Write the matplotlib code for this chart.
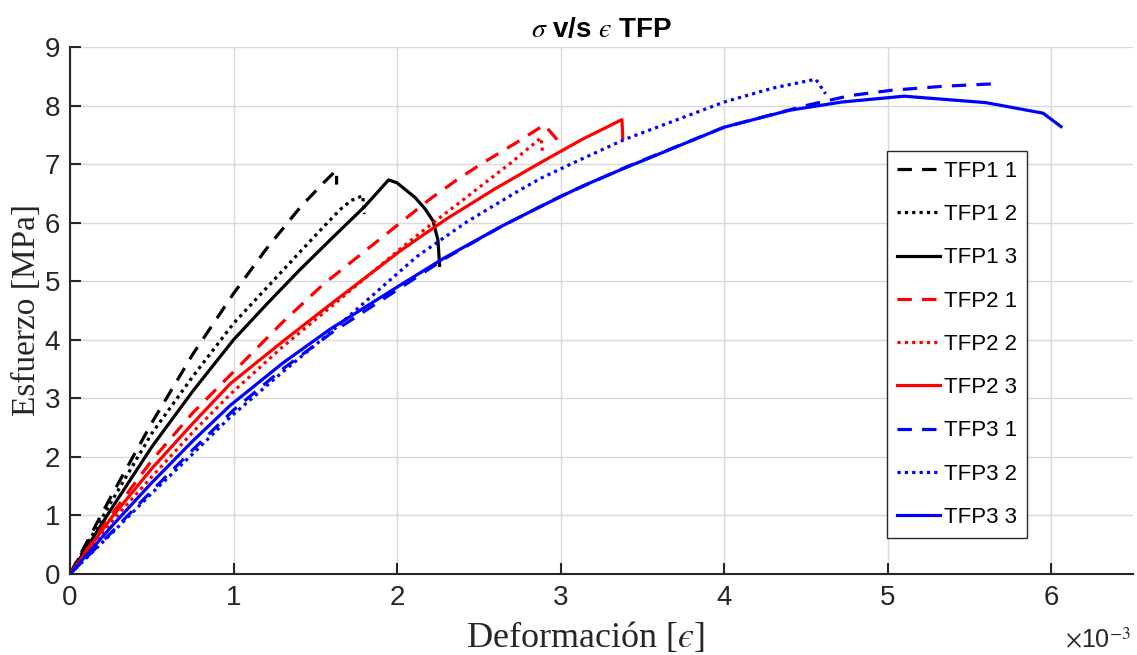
import matplotlib
matplotlib.use("Agg")
import matplotlib.pyplot as plt
import numpy as np

plt.rcParams['mathtext.fontset'] = 'stix'

# strain values in units of 1e-3, stress in MPa
tfp1_1_x = [0, 0.25, 0.5, 0.75, 1.0, 1.2, 1.41, 1.55, 1.63, 1.63]
tfp1_1_y = [0, 1.32, 2.58, 3.75, 4.79, 5.55, 6.27, 6.68, 6.9, 6.65]

tfp1_2_x = [0, 0.25, 0.5, 0.75, 1.0, 1.3, 1.5, 1.65, 1.72, 1.79, 1.80]
tfp1_2_y = [0, 1.22, 2.4, 3.37, 4.28, 5.18, 5.78, 6.22, 6.38, 6.46, 6.15]

tfp1_3_x = [0, 0.25, 0.5, 0.75, 1.0, 1.2, 1.4, 1.6, 1.8, 1.948, 2.0, 2.11, 2.17, 2.22, 2.25, 2.26]
tfp1_3_y = [0, 1.1, 2.17, 3.12, 4.0, 4.6, 5.18, 5.73, 6.27, 6.73, 6.68, 6.43, 6.24, 6.03, 5.7, 5.27]

tfp2_1_x = [0, 0.25, 0.5, 0.75, 1.02, 1.3, 1.55, 2.03, 2.2, 2.37, 2.53, 2.72, 2.9, 3.0]
tfp2_1_y = [0, 1.0, 1.94, 2.75, 3.51, 4.3, 4.95, 6.02, 6.4, 6.74, 7.03, 7.35, 7.67, 7.35]

tfp2_2_x = [0, 0.25, 0.5, 0.75, 0.98, 1.3, 1.59, 2.04, 2.23, 2.39, 2.51, 2.70, 2.88, 2.89]
tfp2_2_y = [0, 0.88, 1.66, 2.42, 3.07, 3.88, 4.55, 5.6, 6.02, 6.36, 6.62, 7.03, 7.45, 7.18]

tfp2_3_x = [0, 0.25, 0.5, 0.75, 0.98, 1.3, 1.59, 2.02, 2.3, 2.6, 2.88, 3.13, 3.375, 3.38]
tfp2_3_y = [0, 0.95, 1.8, 2.57, 3.25, 3.97, 4.6, 5.52, 6.06, 6.58, 7.03, 7.42, 7.76, 7.45]

tfp3_1_x = [0, 0.25, 0.5, 0.75, 1.0, 1.3, 1.6, 2.0, 2.3, 2.64, 3.0, 3.4, 4.0, 4.5, 4.77, 5.02, 5.34, 5.64]
tfp3_1_y = [0, 0.7, 1.42, 2.12, 2.8, 3.5, 4.12, 4.85, 5.4, 5.94, 6.45, 6.95, 7.63, 8.0, 8.17, 8.26, 8.33, 8.37]

tfp3_2_x = [0, 0.25, 0.5, 0.75, 0.98, 1.3, 1.59, 2.12, 2.43, 2.74, 2.88, 3.1, 3.39, 4.0, 4.3, 4.56, 4.62]
tfp3_2_y = [0, 0.68, 1.38, 2.05, 2.68, 3.45, 4.12, 5.42, 6.02, 6.54, 6.76, 7.05, 7.42, 8.06, 8.3, 8.45, 8.2]

tfp3_3_x = [0, 0.25, 0.5, 0.75, 0.98, 1.3, 1.59, 2.0, 2.29, 2.64, 2.88, 3.13, 3.39, 4.0, 4.4, 4.72, 5.1, 5.6, 5.95, 6.06]
tfp3_3_y = [0, 0.8, 1.56, 2.27, 2.88, 3.6, 4.18, 4.9, 5.40, 5.94, 6.28, 6.62, 6.93, 7.63, 7.92, 8.06, 8.16, 8.05, 7.87, 7.64]

labels = ["TFP1 1", "TFP1 2", "TFP1 3", "TFP2 1", "TFP2 2", "TFP2 3",
          "TFP3 1", "TFP3 2", "TFP3 3"]
xticks = [0, 1, 2, 3, 4, 5, 6]
yticks = [0, 1, 2, 3, 4, 5, 6, 7, 8, 9]

series = [
    (tfp1_1_x, tfp1_1_y, 'k', 'dash'),
    (tfp1_2_x, tfp1_2_y, 'k', 'dot'),
    (tfp1_3_x, tfp1_3_y, 'k', 'solid'),
    (tfp2_1_x, tfp2_1_y, '#ff0000', 'dash'),
    (tfp2_2_x, tfp2_2_y, '#ff0000', 'dot'),
    (tfp2_3_x, tfp2_3_y, '#ff0000', 'solid'),
    (tfp3_1_x, tfp3_1_y, '#0000ff', 'dash'),
    (tfp3_2_x, tfp3_2_y, '#0000ff', 'dot'),
    (tfp3_3_x, tfp3_3_y, '#0000ff', 'solid'),
]

fig = plt.figure(figsize=(11.37, 6.55), dpi=100)
ax = fig.add_axes([70/1137, 81/655, 1063/1137, 527/655])

for (x, y, c, st), lab in zip(series, labels):
    line, = ax.plot(x, y, color=c, lw=2.3, label=lab)
    if st == 'dash':
        line.set_dashes([4.5, 3.2])
        line.set_dash_capstyle('butt')
    elif st == 'dot':
        line.set_dashes([1.0, 1.3])
        line.set_dash_capstyle('butt')

ax.set_xlim(0, 6.5)
ax.set_ylim(0, 9)
ax.set_xticks(xticks)
ax.set_yticks(yticks)
ax.grid(True, color='#d9d9d9', lw=1.0)
ax.set_axisbelow(True)
for s in ['top', 'right']:
    ax.spines[s].set_visible(False)
for s in ['left', 'bottom']:
    ax.spines[s].set_color('#262626')
    ax.spines[s].set_linewidth(1.5)
ax.tick_params(direction='in', length=8, width=1.5, color='#262626',
               labelsize=20)
ax.tick_params(axis='x', pad=8)
ax.tick_params(axis='y', pad=7)
for lbl in ax.get_xticklabels() + ax.get_yticklabels():
    lbl.set_family('Liberation Sans')
    lbl.set_color('#262626')

ax.set_xlabel("Deformación [$\u03f5$]", family='Liberation Serif',
              fontsize=26, color='#262626')
ax.xaxis.set_label_coords((585 - 70) / 1063, (574 - 620) / 527)
ax.set_ylabel("Esfuerzo [MPa]", family='Liberation Serif',
              fontsize=24, color='#262626', labelpad=2)
ax.set_title("$\u03c3$ v/s $\u03f5$ TFP", family='Liberation Sans',
             fontweight='bold', fontsize=20, pad=7)

fig.text(1131/1137, 2/655, r"$\times$10$^{-3}$", family='Liberation Sans',
         fontsize=18, ha='right', va='bottom', color='#262626')

leg = ax.legend(loc='upper right', bbox_to_anchor=((1027-70)/1063, (574-151)/527),
                prop={'family': 'Liberation Sans', 'size': 16},
                handlelength=1.95, handletextpad=0.15, labelspacing=1.0,
                borderpad=0.45, borderaxespad=0, fancybox=False, framealpha=1,
                edgecolor='#262626')
leg.get_frame().set_linewidth(1.0)

fig.savefig("out.png", dpi=100)
